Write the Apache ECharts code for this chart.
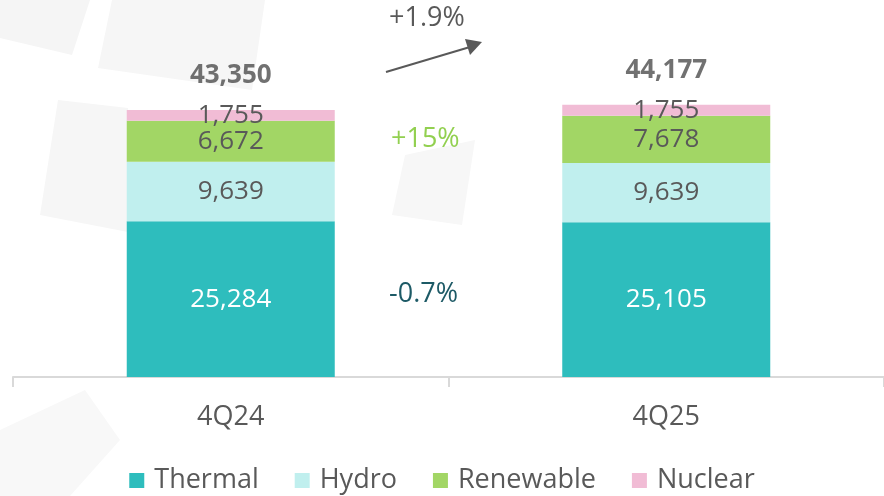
<!DOCTYPE html>
<html>
<head>
<meta charset="utf-8">
<script src="https://cdn.jsdelivr.net/npm/echarts@6/dist/echarts.min.js"></script>
<style>
	html, body { margin: 0; padding: 0; background: #fff; }
	#chart { width: 884px; height: 496px; }
</style>
</head>
<body>
<div id="chart"></div>
<script>
	let categories = ['4Q24', '4Q25']
	let thermal = [25284, 25105]
	let hydro = [9639, 9639]
	let renewable = [6672, 7678]
	let nuclear = [1755, 1755]
	let totals = [43350, 44177]

	let font = 'Open Sans'
	let grey = '#595959'
	let myColor = ['#2ebdbd', '#c0efee', '#a2d665', '#f1bcd5']

	function fmt(v) {
		return v.toLocaleString('en-US')
	}

	let chart = echarts.init(document.getElementById('chart'))

	function seg(name, data, idx, labelColor) {
		return {
			name: name,
			type: 'bar',
			stack: 'total',
			data: data,
			barWidth: 208,
			itemStyle: { color: myColor[idx] },
			label: {
				show: true,
				position: 'inside',
				color: labelColor,
				fontFamily: font,
				fontSize: 26,
				formatter: function(p) { return fmt(p.value) }
			}
		}
	}

	chart.setOption({
		animation: false,
		textStyle: { fontFamily: font },
		grid: { left: 13, top: 69, width: 878, height: 308 },
		legend: {
			bottom: -3,
			left: 'center',
			itemWidth: 15,
			itemHeight: 15,
			itemGap: 36,
			icon: 'rect',
			textStyle: { color: grey, fontSize: 27, fontFamily: font, padding: [0, 0, 0, 5] },
			data: ['Thermal', 'Hydro', 'Renewable', 'Nuclear']
		},
		xAxis: {
			type: 'category',
			data: categories,
			axisLine: { lineStyle: { color: '#d9d9d9', width: 2 } },
			axisTick: { show: true, length: 10, lineStyle: { color: '#d9d9d9', width: 2 } },
			axisLabel: { color: grey, fontSize: 27, margin: 27, fontFamily: font }
		},
		yAxis: {
			type: 'value',
			min: 0,
			max: 50000,
			show: false,
			splitLine: { show: false }
		},
		series: [
			seg('Thermal', thermal, 0, '#ffffff'),
			seg('Hydro', hydro, 1, grey),
			seg('Renewable', renewable, 2, grey),
			seg('Nuclear', nuclear, 3, grey),
			{
				name: 'Total',
				type: 'scatter',
				data: totals,
				symbolSize: 0,
				label: {
					show: true,
					position: 'top',
					distance: 21,
					color: '#4d4d4d',
					fontWeight: 'bold',
					fontSize: 26,
					fontFamily: font,
					formatter: function(p) { return fmt(p.value) }
				}
			}
		],
		graphic: [
			// faint background watermark
			{ type: 'polygon', z: -10, silent: true, shape: { points: [[0, 0], [90, 0], [72, 55], [0, 38]] }, style: { fill: '#f5f5f5' } },
			{ type: 'polygon', z: -10, silent: true, shape: { points: [[112, 0], [265, 0], [252, 90], [98, 68]] }, style: { fill: '#f6f6f6' } },
			{ type: 'polygon', z: -10, silent: true, shape: { points: [[58, 100], [128, 108], [128, 232], [40, 215]] }, style: { fill: '#f6f6f6' } },
			{ type: 'polygon', z: -10, silent: true, shape: { points: [[405, 155], [475, 140], [462, 225], [392, 215]] }, style: { fill: '#f7f7f7' } },
			{ type: 'polygon', z: -10, silent: true, shape: { points: [[0, 430], [85, 390], [120, 440], [70, 496], [0, 496]] }, style: { fill: '#f8f8f8' } },
			// annotations
			{
				type: 'text', left: 389, top: 5,
				style: { text: '+1.9%', fill: grey, fontSize: 27, fontFamily: font }
			},
			{
				type: 'line',
				shape: { x1: 386, y1: 72, x2: 470, y2: 47 },
				style: { stroke: grey, lineWidth: 2 }
			},
			{
				type: 'polygon',
				shape: { points: [[482, 42], [465, 39], [470, 55]] },
				style: { fill: grey }
			},
			{
				type: 'text', left: 391, top: 126,
				style: { text: '+15%', fill: '#92d050', fontSize: 27, fontFamily: font }
			},
			{
				type: 'text', left: 389, top: 281,
				style: { text: '-0.7%', fill: '#1d5a66', fontSize: 27, fontFamily: font }
			}
		]
	})
</script>
</body>
</html>
